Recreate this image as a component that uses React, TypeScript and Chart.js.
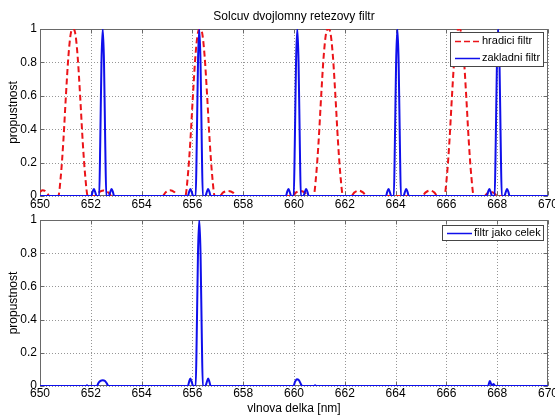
import React, { useEffect, useRef } from "react";
import { Chart, registerables } from "chart.js";

Chart.register(...registerables);

const TITLE = "Solcuv dvojlomny retezovy filtr";
const X_LABEL = "vlnova delka [nm]";
const Y_LABEL = "propustnost";
const X_TICKS = [650, 652, 654, 656, 658, 660, 662, 664, 666, 668, 670];
const Y_TICKS = [0, 0.2, 0.4, 0.6, 0.8, 1];

const LABEL_HRADICI = "hradici filtr";
const LABEL_ZAKLADNI = "zakladni filtr";
const LABEL_CELEK = "filtr jako celek";

// hradici filtr (red dashed)
const hradiciX = [
  650, 650.1, 650.2, 650.3, 650.38,
  650.72, 650.82, 650.92, 651.02, 651.12, 651.22, 651.3, 651.38, 651.48, 651.58, 651.68, 651.78, 651.88,
  652.18, 652.3, 652.5, 652.7, 652.82,
  654.82, 654.95, 655.12, 655.3, 655.42,
  655.72, 655.82, 655.92, 656.02, 656.12, 656.22, 656.3, 656.38, 656.48, 656.58, 656.68, 656.78, 656.88,
  657.08, 657.2, 657.4, 657.6, 657.72,
  659.95, 660.07, 660.25, 660.43, 660.55,
  660.77, 660.87, 660.97, 661.07, 661.17, 661.27, 661.35, 661.43, 661.53, 661.63, 661.73, 661.83, 661.93,
  662.25, 662.37, 662.55, 662.73, 662.85,
  665.05, 665.17, 665.35, 665.53, 665.65,
  665.92, 666.02, 666.12, 666.22, 666.32, 666.42, 666.5, 666.58, 666.68, 666.78, 666.88, 666.98, 667.08,
  667.5, 667.6, 667.75, 667.9, 668.0,
  670,
];
const hradiciY = [
  0.025, 0.035, 0.03, 0.012, 0,
  0, 0.12, 0.33, 0.6, 0.84, 0.98, 1, 0.98, 0.84, 0.6, 0.33, 0.12, 0,
  0, 0.02, 0.033, 0.02, 0,
  0, 0.022, 0.035, 0.022, 0,
  0, 0.12, 0.33, 0.6, 0.84, 0.98, 1, 0.98, 0.84, 0.6, 0.33, 0.12, 0,
  0, 0.02, 0.03, 0.02, 0,
  0, 0.02, 0.03, 0.02, 0,
  0, 0.12, 0.33, 0.6, 0.84, 0.98, 1, 0.98, 0.84, 0.6, 0.33, 0.12, 0,
  0, 0.02, 0.033, 0.02, 0,
  0, 0.02, 0.033, 0.02, 0,
  0, 0.12, 0.33, 0.6, 0.84, 0.98, 1, 0.98, 0.84, 0.6, 0.33, 0.12, 0,
  0, 0.015, 0.025, 0.015, 0,
  0,
];

// zakladni filtr (blue)
const zakladniX = [
  650,
  652.02, 652.07, 652.12, 652.17, 652.23, 652.33, 652.37, 652.42, 652.47, 652.52, 652.57, 652.61, 652.71, 652.77, 652.82, 652.87, 652.92,
  655.82, 655.87, 655.92, 655.97, 656.03, 656.13, 656.17, 656.22, 656.27, 656.32, 656.37, 656.41, 656.51, 656.57, 656.62, 656.67, 656.72,
  659.68, 659.73, 659.78, 659.83, 659.89, 659.99, 660.03, 660.08, 660.13, 660.18, 660.23, 660.27, 660.37, 660.43, 660.48, 660.53, 660.58,
  663.62, 663.67, 663.72, 663.77, 663.83, 663.93, 663.97, 664.02, 664.07, 664.12, 664.17, 664.21, 664.31, 664.37, 664.42, 664.47, 664.52,
  667.59, 667.64, 667.69, 667.74, 667.8, 667.9, 667.94, 667.99, 668.04, 668.09, 668.14, 668.18, 668.28, 668.34, 668.39, 668.44, 668.49,
  670,
];
const zakladniY = [
  0,
  0, 0.025, 0.042, 0.025, 0, 0, 0.3, 0.8, 1, 0.8, 0.3, 0, 0, 0.025, 0.042, 0.025, 0,
  0, 0.025, 0.042, 0.025, 0, 0, 0.3, 0.8, 1, 0.8, 0.3, 0, 0, 0.025, 0.042, 0.025, 0,
  0, 0.025, 0.042, 0.025, 0, 0, 0.3, 0.8, 1, 0.8, 0.3, 0, 0, 0.025, 0.042, 0.025, 0,
  0, 0.025, 0.042, 0.025, 0, 0, 0.3, 0.8, 1, 0.8, 0.3, 0, 0, 0.025, 0.042, 0.025, 0,
  0, 0.025, 0.042, 0.025, 0, 0, 0.3, 0.8, 1, 0.8, 0.3, 0, 0, 0.025, 0.042, 0.025, 0,
  0,
];

// filtr jako celek (blue, bottom)
const celekX = [
  650, 651.8, 651.85, 651.9,
  652.24, 652.3, 652.38, 652.47, 652.56, 652.63, 652.69,
  655.82, 655.87, 655.92, 655.97, 656.03, 656.13, 656.17, 656.22, 656.27, 656.32, 656.37, 656.41, 656.51, 656.57, 656.62, 656.67, 656.72,
  659.98, 660.04, 660.11, 660.19, 660.26, 660.32,
  660.78, 660.83, 660.88,
  667.64, 667.71, 667.76, 667.8, 667.86, 667.92,
  670,
];
const celekY = [
  0, 0, 0.004, 0,
  0, 0.018, 0.031, 0.035, 0.03, 0.016, 0,
  0, 0.025, 0.045, 0.025, 0, 0, 0.3, 0.8, 1, 0.8, 0.3, 0, 0, 0.025, 0.045, 0.025, 0,
  0, 0.025, 0.04, 0.035, 0.015, 0,
  0, 0.004, 0,
  0, 0.03, 0.012, 0.005, 0.012, 0,
  0,
];

const RED = "rgb(235,20,25)";
const BLUE = "rgb(15,15,235)";
const FONT = "'Liberation Sans', Arial, Helvetica, sans-serif";

const toPoints = (xs: number[], ys: number[]) => xs.map((x, i) => ({ x, y: ys[i] }));

type LegendItem = { label: string; color: string; dash: number[] };

function makeFramePlugin() {
  return {
    id: "frame",
    beforeDatasetsDraw(chart: any) {
      const { ctx, chartArea: a, scales } = chart;
      ctx.save();
      ctx.strokeStyle = "rgb(150,150,150)";
      ctx.lineWidth = 1;
      ctx.setLineDash([1, 2]);
      scales.x.ticks.forEach((t: any) => {
        const px = Math.round(scales.x.getPixelForValue(t.value)) + 0.5;
        ctx.beginPath();
        ctx.moveTo(px, a.top);
        ctx.lineTo(px, a.bottom);
        ctx.stroke();
      });
      scales.y.ticks.forEach((t: any) => {
        const py = Math.round(scales.y.getPixelForValue(t.value)) + 0.5;
        ctx.beginPath();
        ctx.moveTo(a.left, py);
        ctx.lineTo(a.right, py);
        ctx.stroke();
      });
      ctx.setLineDash([]);
      ctx.strokeStyle = "rgb(105,105,105)";
      const L = Math.round(a.left) + 0.5;
      const R = Math.round(a.right) - 0.5;
      const T = Math.round(a.top) + 0.5;
      const B = Math.round(a.bottom) - 0.5;
      ctx.strokeRect(L, T, R - L, B - T);
      const tl = 4;
      scales.x.ticks.forEach((t: any) => {
        const px = Math.round(scales.x.getPixelForValue(t.value)) + 0.5;
        ctx.beginPath();
        ctx.moveTo(px, B);
        ctx.lineTo(px, B - tl);
        ctx.moveTo(px, T);
        ctx.lineTo(px, T + tl);
        ctx.stroke();
      });
      scales.y.ticks.forEach((t: any) => {
        const py = Math.round(scales.y.getPixelForValue(t.value)) + 0.5;
        ctx.beginPath();
        ctx.moveTo(L, py);
        ctx.lineTo(L + tl, py);
        ctx.moveTo(R, py);
        ctx.lineTo(R - tl, py);
        ctx.stroke();
      });
      ctx.restore();
    },
  };
}

function makeLegendPlugin(items: LegendItem[], box: { x: number; y: number; w: number; h: number }, rowH: number) {
  return {
    id: "boxLegend",
    afterDraw(chart: any) {
      const { ctx } = chart;
      ctx.save();
      ctx.fillStyle = "#fff";
      ctx.fillRect(box.x, box.y, box.w, box.h);
      ctx.strokeStyle = "rgb(70,70,70)";
      ctx.lineWidth = 1;
      ctx.setLineDash([]);
      ctx.strokeRect(box.x + 0.5, box.y + 0.5, box.w - 1, box.h - 1);
      ctx.font = `11px ${FONT}`;
      ctx.textBaseline = "middle";
      ctx.textAlign = "left";
      items.forEach((it, i) => {
        const cy = box.y + box.h / 2 + (i - (items.length - 1) / 2) * rowH;
        ctx.strokeStyle = it.color;
        ctx.lineWidth = 1.5;
        ctx.setLineDash(it.dash);
        ctx.beginPath();
        ctx.moveTo(box.x + 5, Math.round(cy) + 0.5);
        ctx.lineTo(box.x + 30, Math.round(cy) + 0.5);
        ctx.stroke();
        ctx.setLineDash([]);
        ctx.fillStyle = "#000";
        ctx.fillText(it.label, box.x + 32, cy);
      });
      ctx.restore();
    },
  };
}

function makeTitlePlugin(text: string) {
  return {
    id: "topTitle",
    afterDraw(chart: any) {
      const { ctx, chartArea: a } = chart;
      ctx.save();
      ctx.font = `12px ${FONT}`;
      ctx.fillStyle = "#000";
      ctx.textAlign = "center";
      ctx.textBaseline = "alphabetic";
      ctx.fillText(text, (a.left + a.right) / 2, 20);
      ctx.restore();
    },
  };
}

function scaleOptions(xAxisHeight: number, xPad: number, showXTitle: boolean) {
  return {
    x: {
      type: "linear" as const,
      min: X_TICKS[0],
      max: X_TICKS[X_TICKS.length - 1],
      afterBuildTicks: (s: any) => {
        s.ticks = X_TICKS.map((v) => ({ value: v }));
      },
      afterFit: (s: any) => {
        s.height = xAxisHeight;
        s.paddingLeft = 0;
        s.paddingRight = 0;
      },
      grid: { display: false, drawTicks: false },
      border: { display: false },
      ticks: {
        autoSkip: false,
        maxRotation: 0,
        padding: xPad,
        color: "#000",
        font: { size: 12, family: FONT },
        callback: (v: any) => String(v),
      },
      title: {
        display: showXTitle,
        text: X_LABEL,
        color: "#000",
        font: { size: 12, family: FONT },
        padding: { top: 0, bottom: 1 },
      },
    },
    y: {
      type: "linear" as const,
      min: 0,
      max: 1,
      afterBuildTicks: (s: any) => {
        s.ticks = Y_TICKS.map((v) => ({ value: v }));
      },
      afterFit: (s: any) => {
        s.width = 40;
        s.paddingTop = 0;
        s.paddingBottom = 0;
      },
      grid: { display: false, drawTicks: false },
      border: { display: false },
      ticks: {
        padding: 3,
        color: "#000",
        font: { size: 12, family: FONT },
        callback: (v: any) => String(v),
      },
      title: {
        display: true,
        text: Y_LABEL,
        color: "#000",
        font: { size: 12, family: FONT },
        padding: { top: 6, bottom: 0 },
      },
    },
  };
}

export default function App() {
  const topRef = useRef<HTMLCanvasElement | null>(null);
  const botRef = useRef<HTMLCanvasElement | null>(null);

  useEffect(() => {
    const H = 417;
    const topBottom = 196;
    const topXH = 16;
    const top = new Chart(topRef.current as HTMLCanvasElement, {
      type: "line",
      data: {
        datasets: [
          {
            label: LABEL_ZAKLADNI,
            data: toPoints(zakladniX, zakladniY),
            borderColor: BLUE,
            borderWidth: 2,
            pointRadius: 0,
            cubicInterpolationMode: "monotone",
            order: 0,
          },
          {
            label: LABEL_HRADICI,
            data: toPoints(hradiciX, hradiciY),
            borderColor: RED,
            borderWidth: 2,
            borderDash: [6, 3.5],
            pointRadius: 0,
            cubicInterpolationMode: "monotone",
            order: 1,
          },
        ],
      },
      options: {
        responsive: false,
        animation: false,
        events: [],
        layout: { padding: { left: 0, right: 7, top: 29, bottom: H - topBottom - topXH } },
        plugins: { legend: { display: false }, tooltip: { enabled: false }, title: { display: false } },
        scales: scaleOptions(topXH, 1, false),
      } as any,
      plugins: [
        makeFramePlugin(),
        makeTitlePlugin(TITLE),
        makeLegendPlugin(
          [
            { label: LABEL_HRADICI, color: RED, dash: [6, 3] },
            { label: LABEL_ZAKLADNI, color: BLUE, dash: [] },
          ],
          { x: 450, y: 32, w: 94, h: 35 },
          17
        ),
      ],
    });

    const bot = new Chart(botRef.current as HTMLCanvasElement, {
      type: "line",
      data: {
        datasets: [
          {
            label: LABEL_CELEK,
            data: toPoints(celekX, celekY),
            borderColor: BLUE,
            borderWidth: 2,
            pointRadius: 0,
            cubicInterpolationMode: "monotone",
          },
        ],
      },
      options: {
        responsive: false,
        animation: false,
        events: [],
        layout: { padding: { left: 0, right: 7, top: 220, bottom: 0 } },
        plugins: { legend: { display: false }, tooltip: { enabled: false }, title: { display: false } },
        scales: scaleOptions(31, 0, true),
      } as any,
      plugins: [
        makeFramePlugin(),
        makeLegendPlugin([{ label: LABEL_CELEK, color: BLUE, dash: [] }], { x: 442, y: 225, w: 102, h: 16 }, 0),
      ],
    });

    return () => {
      top.destroy();
      bot.destroy();
    };
  }, []);

  return (
    <div style={{ position: "fixed", left: 0, top: 0, width: 555, height: 417, background: "#fff" }}>
      <canvas ref={botRef} width={555} height={417} style={{ position: "absolute", left: 0, top: 0 }} />
      <canvas ref={topRef} width={555} height={417} style={{ position: "absolute", left: 0, top: 0 }} />
    </div>
  );
}
